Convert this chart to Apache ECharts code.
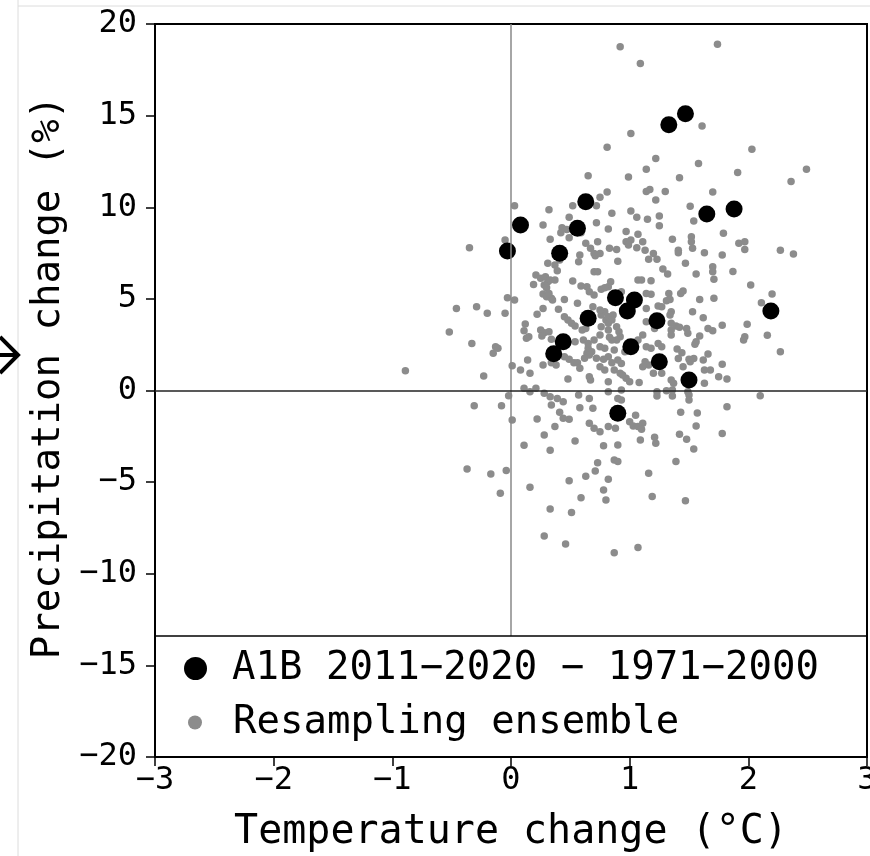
<!DOCTYPE html>
<html>
<head>
<meta charset="utf-8">
<script src="https://cdn.jsdelivr.net/npm/echarts@6/dist/echarts.min.js"></script>
<style>
html,body{margin:0;padding:0;background:#fff;}
#chart{width:870px;height:856px;}
</style>
</head>
<body>
<div id="chart"></div>
<script>
// A1B 2011-2020 minus 1971-2000 (black dots)
const a1bTemp   = [-0.03,0.08,0.41,0.56,0.63,1.33,1.47,1.65,1.88,2.19,0.88,1.04,0.98,0.65,1.23,0.44,0.36,1.01,1.25,1.50,0.90];
const a1bPrecip = [7.61,9.03,7.49,8.85,10.30,14.50,15.10,9.63,9.90,4.34,5.06,4.94,4.34,3.94,3.81,2.66,2.01,2.39,1.57,0.57,-1.24];

// Resampling ensemble (grey dots)
const resampleTemp = [
0.92,1.01,0.81,0.65,0.99,0.75,0.81,0.72,0.52,0.32,0.03,0.49,0.85,1.01,1.74,1.09,1.61,2.03,1.22,1.14,
1.58,2.49,2.36,1.91,1.42,1.14,1.17,1.30,1.22,1.70,1.06,1.15,1.25,1.51,1.54,1.25,0.82,0.97,1.07,0.97,
1.01,0.99,1.11,1.13,0.83,0.89,1.06,1.36,1.52,1.52,1.53,1.41,1.41,1.79,1.92,1.97,1.97,2.27,2.38,1.20,
1.23,1.16,0.90,1.63,1.78,1.47,1.28,1.32,1.56,1.70,1.70,1.71,1.87,2.02,2.20,2.11,1.07,1.10,1.18,0.84,
0.82,1.18,1.14,1.33,1.43,1.45,1.59,1.71,1.31,1.34,1.24,1.14,0.79,0.76,1.35,1.34,1.53,1.62,1.14,0.80,
0.82,1.35,1.39,1.42,1.48,1.49,1.66,1.70,1.78,1.99,1.97,1.96,2.16,2.27,1.35,1.35,1.21,1.59,1.56,1.55,
0.91,0.92,0.89,0.85,1.11,1.07,1.14,1.18,1.24,1.27,1.40,1.44,1.50,1.51,1.45,1.62,1.66,1.63,1.68,1.78,
1.75,1.82,1.63,1.13,1.16,1.11,1.20,1.27,1.35,1.37,0.90,0.93,0.82,0.78,0.87,0.92,0.79,1.08,0.97,0.82,
0.82,0.93,1.23,1.31,1.49,2.10,1.00,1.23,1.36,1.36,1.50,1.50,0.90,0.93,1.82,1.43,1.57,1.05,1.00,1.03,
1.07,1.11,1.10,0.82,0.88,1.56,1.78,1.42,1.48,1.21,1.22,1.09,1.54,0.78,0.90,0.87,0.90,1.39,1.16,0.82,
0.78,0.80,1.19,1.47,0.87,1.07,0.11,0.16,0.21,0.28,0.33,0.39,0.44,0.57,0.66,-0.02,-0.31,-0.08,0.01,0.22,
0.41,0.44,0.49,0.58,0.37,0.66,0.70,0.75,0.28,0.54,0.11,0.33,0.73,-0.37,-0.17,-0.04,-0.09,0.16,0.49,0.63,
0.71,0.59,0.33,0.51,0.28,0.46,0.72,0.27,0.43,0.47,-0.05,-0.35,0.33,0.49,0.73,0.67,0.70,0.71,0.58,0.57,
0.31,0.37,0.39,0.70,0.73,0.21,0.25,0.29,0.31,0.33,0.37,0.19,0.28,0.30,0.52,0.59,0.64,0.66,0.70,0.76,
0.79,0.27,0.30,0.34,0.35,0.45,-0.03,0.03,-0.46,-0.29,-0.20,-0.05,0.27,0.40,0.56,0.75,0.82,0.86,0.85,0.12,
0.11,0.15,0.13,0.22,0.25,0.28,0.32,0.26,0.34,0.45,0.48,0.51,0.54,0.60,0.63,0.75,0.83,0.54,0.61,0.65,
0.75,0.79,0.87,0.96,-0.13,-0.11,-0.15,-0.33,-0.52,-0.89,-0.23,0.01,0.14,0.08,0.16,0.27,0.34,0.38,0.45,0.49,
0.53,0.48,0.56,0.58,0.67,0.64,0.68,0.85,0.42,0.59,0.63,0.75,0.41,0.32,0.69,0.89,0.82,0.76,0.65,0.70,
0.66,0.62,0.72,0.66,0.75,0.94,0.34,0.69,0.93,1.27,1.41,1.54
];
const resamplePrecip = [
18.76,14.03,13.28,11.72,11.65,10.54,10.83,10.08,10.08,9.86,10.08,9.46,9.67,9.79,18.90,17.85,14.43,13.17,12.66,12.07,
12.39,12.08,11.41,11.90,11.61,10.86,10.97,10.86,10.39,10.83,9.45,9.34,9.52,10.05,9.25,8.99,8.81,8.68,8.52,8.12,
8.21,7.94,8.12,7.66,7.76,7.70,7.79,8.25,8.39,8.12,7.76,7.66,7.52,8.58,8.03,8.12,7.70,7.66,7.45,7.48,
7.16,7.16,7.06,7.52,7.39,6.94,6.63,6.36,6.36,6.75,6.48,6.07,6.50,5.76,5.26,4.79,6.03,6.03,5.99,5.94,
5.66,5.25,5.30,5.30,5.30,5.43,4.97,5.03,4.90,4.97,4.61,4.48,4.30,4.12,4.30,4.12,4.30,3.97,3.75,3.85,
3.67,3.67,3.52,3.45,3.39,3.12,3.39,3.26,3.56,3.61,2.93,2.75,3.01,2.12,3.30,3.03,3.39,2.97,2.66,2.52,
3.21,2.93,2.75,2.75,3.03,2.75,2.39,2.30,2.57,2.39,2.26,2.06,1.70,1.57,1.30,1.66,1.99,1.12,1.12,1.43,
0.75,0.63,0.39,1.57,1.39,1.30,0.94,0.94,0.57,0.39,1.66,1.48,1.84,1.70,1.12,0.94,1.12,0.43,0.67,0.48,
-0.07,0.03,-0.07,-0.01,-0.07,-0.28,0.48,-0.30,0.03,-0.30,-0.25,-0.52,-0.43,-0.52,-0.88,-1.19,-1.23,-1.35,-1.70,-1.94,
-1.97,-1.79,-2.12,-1.97,-2.06,-1.94,-2.34,-2.39,-2.66,-2.55,-2.88,-2.70,-3.19,-3.01,-2.97,-3.79,-3.88,-3.88,-4.52,-4.84,
-5.43,-5.97,-5.79,-6.01,-8.85,-8.57,0.12,-0.07,0.12,-0.15,-0.34,-0.43,-0.61,-0.25,-0.43,-0.28,-0.83,-0.83,-1.61,-1.56,
-1.19,-1.52,-1.57,-0.94,-1.97,-1.79,-2.06,-2.25,-2.43,-2.75,-2.99,-3.26,-3.94,-4.28,-4.55,-4.37,-5.61,-5.28,-4.92,-4.68,
-4.39,-5.85,-6.46,-6.66,-7.94,-8.37,9.15,9.03,8.88,8.79,8.21,7.79,8.25,8.34,8.12,7.76,7.48,7.35,7.39,7.03,
6.94,6.85,6.54,6.48,6.48,6.30,6.12,6.21,5.94,6.03,6.03,5.79,5.76,5.61,5.97,5.70,5.66,5.39,5.21,5.52,
5.61,5.26,5.12,5.03,4.94,4.97,5.06,4.94,4.48,4.57,4.21,4.21,4.48,4.43,4.76,4.39,4.03,4.12,3.85,3.63,
3.26,2.93,2.85,4.16,3.30,3.15,3.21,2.97,2.79,4.03,3.85,3.67,3.52,3.30,3.39,3.03,2.90,2.66,2.75,2.30,
2.39,2.30,2.21,2.12,2.39,2.30,2.03,2.57,3.19,1.08,0.79,1.35,1.66,1.12,0.94,1.39,1.52,1.39,1.84,1.70,
1.52,0.63,1.52,1.21,0.57,2.03,2.12,1.52,8.61,8.61,8.03,7.48,7.12,5.30,4.57,3.48,3.30,3.48,2.57,2.75,
1.94,1.76,1.76,0.75,1.30,0.85,-0.79,-0.97,5.39,4.57,1.75,1.75
];

const xTicks = {min: -3, max: 3, step: 1};
const yTicks = {min: -20, max: 20, step: 5};
const legendBoxTop = -13.4;   // y-value of the line separating the legend box

const nameA1B = 'A1B 2011\u22122020 \u2212 1971\u22122000';
const nameRes = 'Resampling ensemble';

const FONT = 'DejaVu Sans Mono';
const fmt = v => (v < 0 ? '\u2212' + Math.abs(v) : String(v));

const chart = echarts.init(document.getElementById('chart'), null, {renderer: 'canvas'});
chart.setOption({
  animation: false,
  backgroundColor: '#fff',
  grid: {left: 155, right: 3, top: 24, bottom: 99, show: true, borderColor: '#000', borderWidth: 2,
         containLabel: false, outerBoundsMode: 'none'},
  xAxis: {
    type: 'value', min: xTicks.min, max: xTicks.max, interval: xTicks.step,
    name: 'Temperature change (\u00B0C)', nameLocation: 'middle', nameGap: 56,
    nameTextStyle: {fontFamily: FONT, fontSize: 40, color: '#000'},
    axisLine: {show: true, onZero: false, lineStyle: {color: '#000', width: 2}},
    axisTick: {show: true, inside: false, length: 9, lineStyle: {color: '#000', width: 1.5}},
    axisLabel: {fontFamily: FONT, fontSize: 32, color: '#000', margin: 8, formatter: fmt, hideOverlap: false},
    splitLine: {show: false}
  },
  yAxis: {
    type: 'value', min: yTicks.min, max: yTicks.max, interval: yTicks.step,
    name: 'Precipitation change (%)', nameLocation: 'middle', nameGap: 76,
    nameTextStyle: {fontFamily: FONT, fontSize: 39, color: '#000', padding: [0, 0, 0, 26]},
    axisLine: {show: true, onZero: false, lineStyle: {color: '#000', width: 2}},
    axisTick: {show: true, inside: false, length: 9, lineStyle: {color: '#000', width: 1.5}},
    axisLabel: {fontFamily: FONT, fontSize: 32, color: '#000', margin: 18, formatter: fmt, hideOverlap: false},
    splitLine: {show: false}
  },
  legend: [
    {data: [{name: nameA1B, icon: 'circle'}], left: 184, top: 649, padding: 0, itemWidth: 23, itemHeight: 23,
     selectedMode: false, textStyle: {fontFamily: FONT, fontSize: 39, color: '#000', padding: [0, 0, 0, 20]}},
    {data: [{name: nameRes, icon: 'circle'}], left: 188, top: 703, padding: 0, itemWidth: 14, itemHeight: 14,
     selectedMode: false, textStyle: {fontFamily: FONT, fontSize: 39, color: '#000', padding: [0, 0, 0, 26]}}
  ],
  series: [
    {
      type: 'scatter', name: 'ref-lines', data: [], z: 1, silent: true,
      markLine: {
        silent: true, symbol: 'none', label: {show: false}, animation: false,
        data: [
          [{coord: [0, yTicks.max], lineStyle: {color: '#888', width: 1.5, type: 'solid'}}, {coord: [0, legendBoxTop]}],
          {yAxis: 0, lineStyle: {color: '#222', width: 1.5, type: 'solid'}},
          {yAxis: legendBoxTop, lineStyle: {color: '#000', width: 1.6, type: 'solid'}}
        ]
      }
    },
    {
      type: 'scatter', name: nameRes, z: 2, symbol: 'circle', symbolSize: 7.5,
      itemStyle: {color: '#8c8c8c', opacity: 1},
      data: resampleTemp.map((t, i) => [t, resamplePrecip[i]])
    },
    {
      type: 'scatter', name: nameA1B, z: 3, symbol: 'circle', symbolSize: 17,
      itemStyle: {color: '#000', opacity: 1},
      data: a1bTemp.map((t, i) => [t, a1bPrecip[i]])
    }
  ],
  graphic: [
    {type: 'line', shape: {x1: 18, y1: 0, x2: 18, y2: 856}, style: {stroke: '#dcdcdc', lineWidth: 1}, silent: true},
    {type: 'line', shape: {x1: 18, y1: 6, x2: 870, y2: 6}, style: {stroke: '#dcdcdc', lineWidth: 1}, silent: true},
    {type: 'polyline', shape: {points: [[0, 337], [18, 355], [0, 373]]}, style: {stroke: '#000', lineWidth: 4, fill: null}, silent: true},
    {type: 'line', shape: {x1: 0, y1: 355, x2: 16, y2: 355}, style: {stroke: '#000', lineWidth: 4}, silent: true}
  ]
});
</script>
</body>
</html>
